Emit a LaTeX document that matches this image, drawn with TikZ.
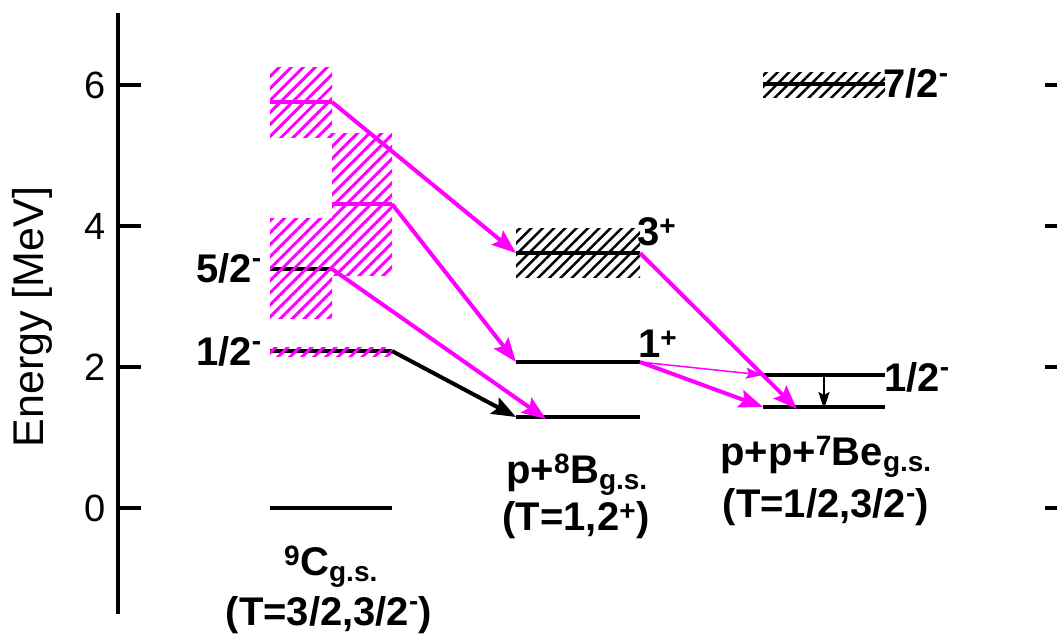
\documentclass[tikz,border=0pt]{standalone}
\usepackage{fontspec}
\setmainfont{Liberation Sans}
\usetikzlibrary{arrows.meta, patterns.meta, positioning}
\definecolor{levelpink}{HTML}{FF00FF}
\newcommand{\supminus}{\textsuperscript{\raisebox{0.35ex}{-}}}
\tikzstyle{level} = [line width=4pt, black]
\tikzstyle{pinklevel} = [line width=4pt, levelpink]
\tikzstyle{pinkhatch} = [pattern={Lines[angle=45, distance=8.5pt, line width=3pt]}, pattern color=levelpink]
\tikzstyle{blackhatch} = [pattern={Lines[angle=45, distance=8pt, line width=2.5pt]}, pattern color=black]
\tikzstyle{decay} = [line width=4pt, levelpink, -{Stealth[length=24pt, width=18pt, inset=4pt]}]
\tikzstyle{weakdecay} = [line width=1.5pt, levelpink, -{Stealth[length=17pt, width=11pt, inset=3pt]}]
\tikzstyle{blackdecay} = [line width=4pt, black, -{Stealth[length=24pt, width=18pt, inset=4pt]}]
\tikzstyle{jpi} = [font=\fontsize{40}{44}\selectfont\bfseries, inner sep=0pt]
\tikzstyle{channel} = [font=\fontsize{40}{44}\selectfont\bfseries, inner sep=0pt, anchor=base]
\tikzstyle{ticklabel} = [font=\fontsize{38}{40}\selectfont, inner sep=0pt, anchor=east]

\begin{document}
\begin{tikzpicture}[x=1pt, y=-1pt]
    \useasboundingbox (0,0) rectangle (1057,635);

    % Axis
    \draw[line width=4pt] (118,13) -- (118,614);
    \foreach \e/\y in {0/508, 2/367, 4/226, 6/85} {
        \draw[line width=4pt] (118,\y) -- (141,\y);
        \draw[line width=4pt] (1045,\y) -- (1057,\y);
        \node[ticklabel] (tick\e) at (106,\y) {\e};
    }
    \node[font=\fontsize{43}{46}\selectfont, rotate=90, inner sep=0pt] (elabel) at (32,317) {Energy [MeV]};

    % 9C levels
    \coordinate (C0L) at (270,508); \coordinate (C0R) at (392,508);
    \coordinate (C1L) at (270,351); \coordinate (C1R) at (392,351);
    \coordinate (C2L) at (270,269); \coordinate (C2R) at (332,269);
    \coordinate (C3L) at (332,204); \coordinate (C3R) at (392,204);
    \coordinate (C4L) at (270,102); \coordinate (C4R) at (332,102);

    \fill[pinkhatch] (270,67) rectangle (332,137);
    \fill[pinkhatch] (332,133) rectangle (392,275);
    \draw[level] (C2L) -- (C2R);
    \fill[pinkhatch] (270,218) rectangle (332,318);
    \draw[level] (C1L) -- (C1R);
    \fill[pinkhatch] (270,347) rectangle (392,356);
    \draw[pinklevel] (C4L) -- (C4R);
    \draw[pinklevel] (C3L) -- (C3R);
    \draw[level] (C0L) -- (C0R);

    % p+8B levels
    \coordinate (B0L) at (516,417); \coordinate (B0R) at (640,417);
    \coordinate (B1L) at (516,362); \coordinate (B1R) at (640,362);
    \coordinate (B3L) at (516,253); \coordinate (B3R) at (640,253);
    \coordinate (B0hit) at (546,419);

    \fill[blackhatch] (516,228) rectangle (640,277);
    \draw[level] (B3L) -- (B3R);
    \draw[level] (B1L) -- (B1R);
    \draw[level] (B0L) -- (B0R);

    % p+p+7Be levels
    \coordinate (Be0L) at (763,407); \coordinate (Be0R) at (885,407);
    \coordinate (Be1L) at (763,375); \coordinate (Be1R) at (885,375);
    \coordinate (Be7L) at (763,84);  \coordinate (Be7R) at (885,84);
    \coordinate (Be0hit) at (797,409);
    \coordinate (Be1mid) at (824,375); \coordinate (Be0mid) at (824,409);

    \fill[blackhatch] (763,72) rectangle (885,97);
    \draw[level] (Be7L) -- (Be7R);
    \draw[level] (Be1L) -- (Be1R);
    \draw[level] (Be0L) -- (Be0R);

    % Decays
    \draw[decay] (C4R) -- (B3L);
    \draw[decay] (C3R) -- (B1L);
    \draw[decay] (C2R) -- (B0hit);
    \draw[blackdecay] (C1R) -- (B0L);
    \draw[decay] (B3R) -- (Be0hit);
    \draw[weakdecay] (B1R) -- (Be1L);
    \draw[decay] (B1R) -- (Be0L);
    \draw[line width=2pt, -{Stealth[length=17pt, width=11pt, inset=3pt]}] (Be1mid) -- (Be0mid);

    % Spin-parity labels
    \node[jpi, anchor=base east] (j52) at (262,282) {5/2\supminus};
    \node[jpi, anchor=base east] (j12) at (262,365) {1/2\supminus};
    \node[jpi, anchor=base west] (j3p) at (637,245) {3\textsuperscript{+}};
    \node[jpi, anchor=base west] (j1p) at (638,357) {1\textsuperscript{+}};
    \node[jpi, anchor=base west] (j12b) at (884,391) {1/2\supminus};
    \node[jpi, anchor=base west] (j72) at (883,97) {7/2\supminus};

    % Channels
    \node[channel] (Cname) at (331,575) {\textsuperscript{9}C\textsubscript{g.s.}};
    \node[channel] (Cqn) at (329,625) {(T=3/2,3/2\supminus)};
    \node[channel] (Bname) at (577,483) {p+\textsuperscript{8}B\textsubscript{g.s.}};
    \node[channel] (Bqn) at (576,530) {(T=1,2\textsuperscript{+})};
    \node[channel] (Bename) at (826,465) {p+p+\textsuperscript{7}Be\textsubscript{g.s.}};
    \node[channel] (Beqn) at (826,517) {(T=1/2,3/2\supminus)};
\end{tikzpicture}
\end{document}
